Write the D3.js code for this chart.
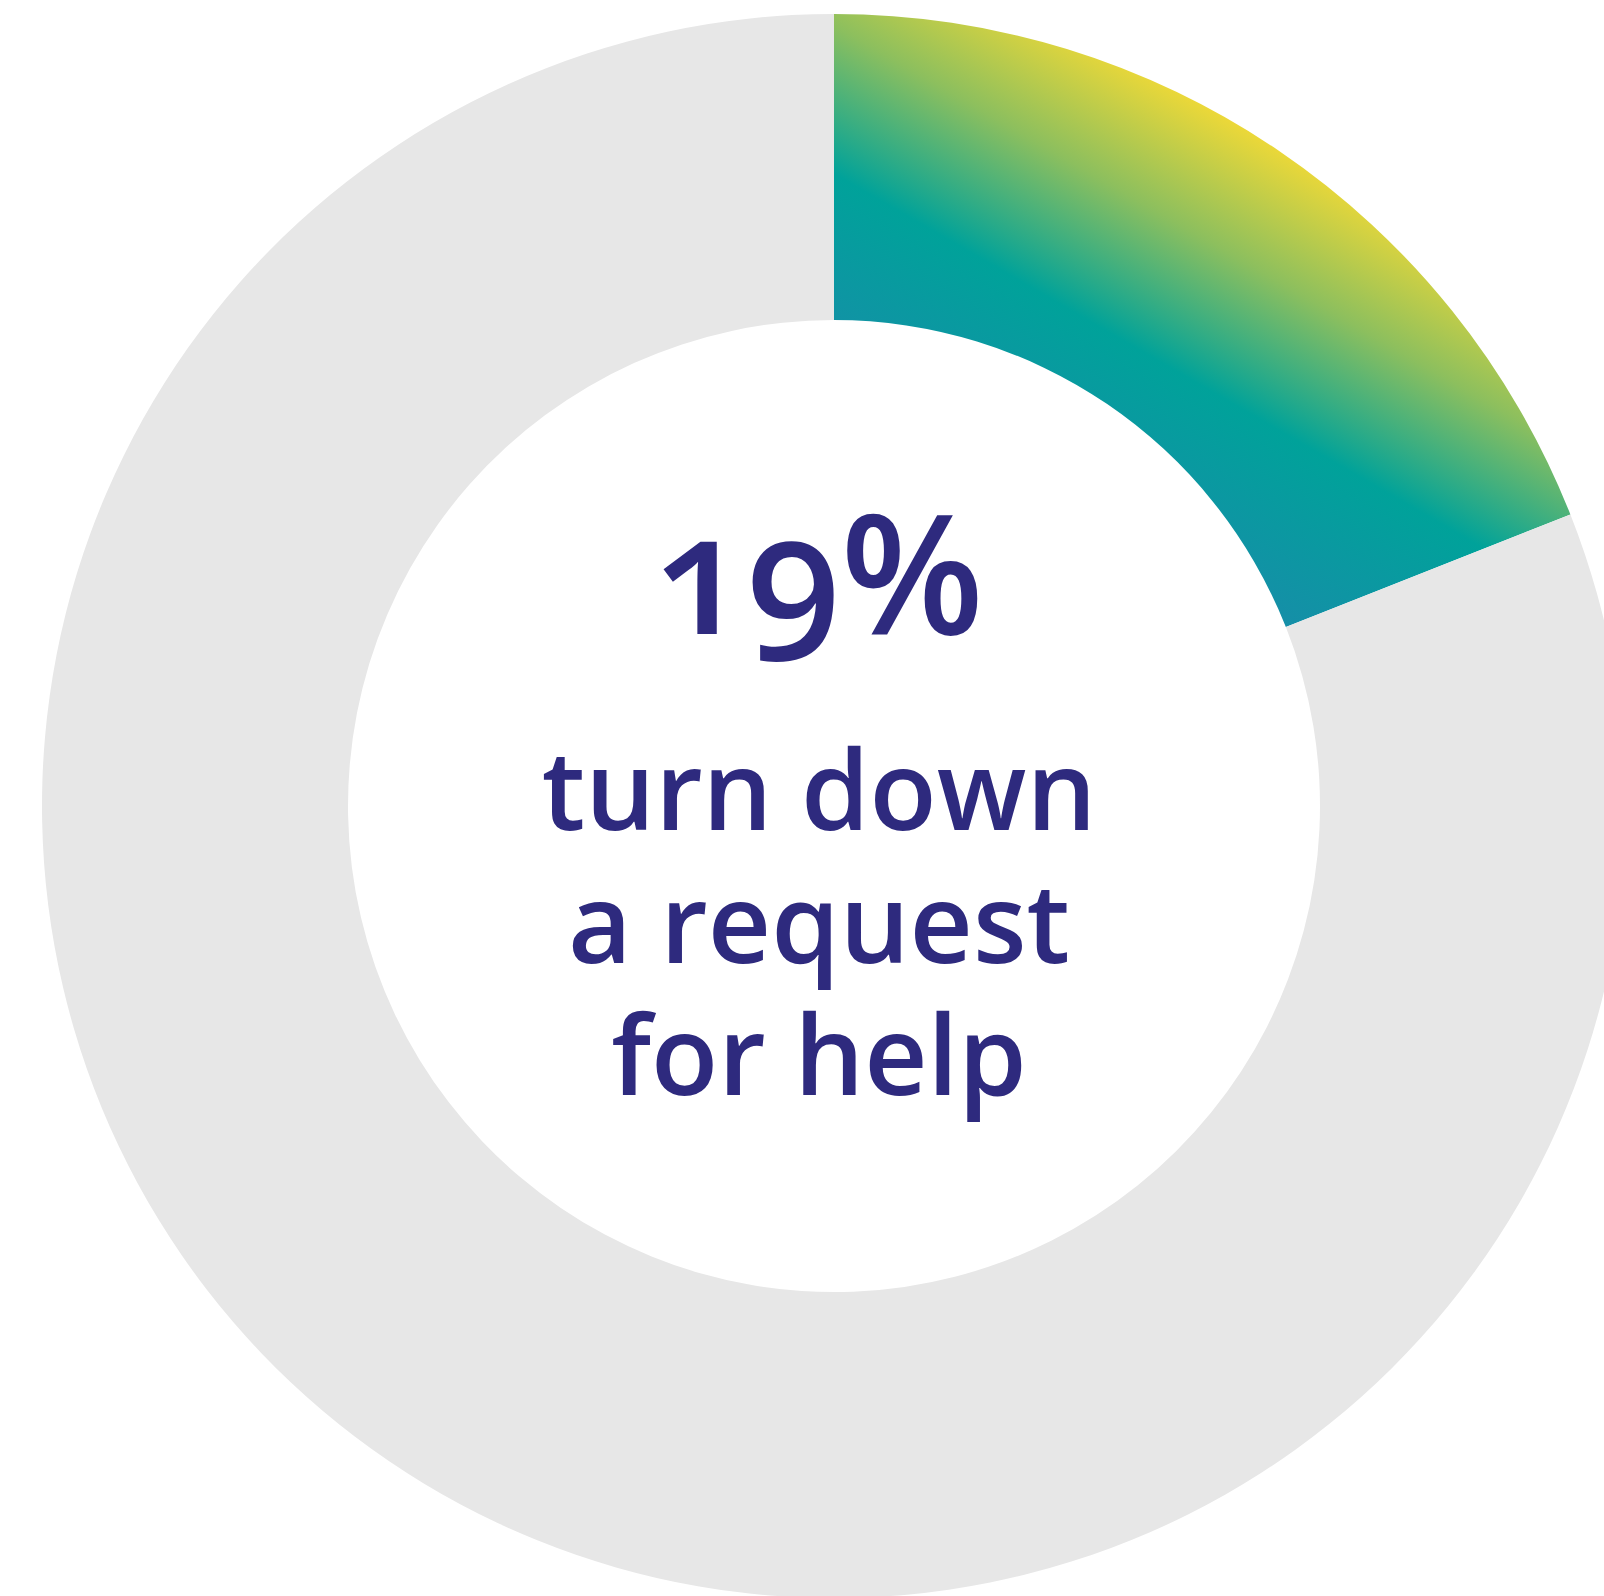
<!DOCTYPE html>
<html>
<head>
<meta charset="utf-8">
<script src="https://cdn.jsdelivr.net/npm/d3@7"></script>
<style>
  html, body { margin: 0; padding: 0; background: #ffffff; }
  svg { display: block; }
  .label { font-family: "Open Sans", "Noto Sans", sans-serif; fill: #2e2a7e; font-weight: 600; }
</style>
</head>
<body>
<svg id="chart" width="1604" height="1596"></svg>
<script>
// Share of people who turn down a request for help, versus the rest
const categories = ["turn down a request for help", "other"];
const values = [19, 81];
const headline = "19%";
const captionLines = ["turn down", "a request", "for help"];

const width = 1604, height = 1596;
const cx = 834, cy = 806;
const outerR = 792, innerR = 486;

const svg = d3.select("#chart");
const g = svg.append("g").attr("transform", `translate(${cx},${cy})`);

// Diagonal gradient: blue-teal near the inner edge, teal, then green to yellow at the outer edge
const defs = svg.append("defs");
const grad = defs.append("linearGradient")
  .attr("id", "sliceGradient")
  .attr("gradientUnits", "userSpaceOnUse")
  .attr("x1", -85).attr("y1", -485)
  .attr("x2", 122).attr("y2", -844);
[
  { o: 0.00, c: "#168ea8" },
  { o: 0.41, c: "#00a29a" },
  { o: 0.72, c: "#8cbf5e" },
  { o: 1.00, c: "#ecd838" }
].forEach(s => grad.append("stop").attr("offset", s.o).attr("stop-color", s.c));

const pie = d3.pie().sort(null).value(d => d).startAngle(0).endAngle(2 * Math.PI);
const arc = d3.arc().innerRadius(innerR).outerRadius(outerR);
const fills = ["url(#sliceGradient)", "#e7e7e7"];

g.selectAll("path.slice")
  .data(pie(values))
  .join("path")
  .attr("class", "slice")
  .attr("d", arc)
  .attr("fill", (d, i) => fills[i]);

// Centre text
const textX = 819 - cx;
g.append("text")
  .attr("class", "label")
  .attr("x", textX)
  .attr("y", 634 - cy)
  .attr("text-anchor", "middle")
  .style("font-size", "166px")
  .style("font-variant-numeric", "oldstyle-nums")
  .text(headline);

// Caption as one block of three lines
const lineY = [830, 963, 1095];
g.append("text")
  .attr("class", "label caption")
  .attr("text-anchor", "middle")
  .style("font-size", "110px")
  .selectAll("tspan")
  .data(captionLines)
  .join("tspan")
  .attr("x", textX)
  .attr("y", (d, i) => lineY[i] - cy)
  .text(d => d);
</script>
</body>
</html>
